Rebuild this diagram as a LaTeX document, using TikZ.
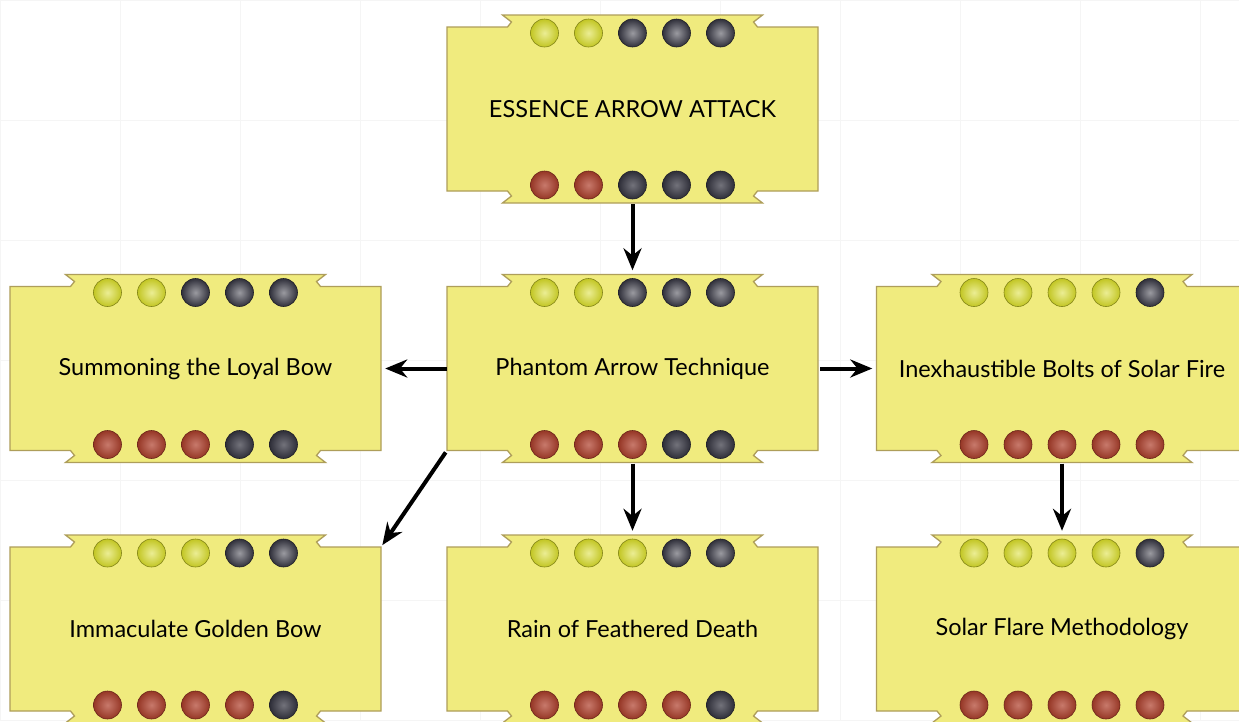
\documentclass[tikz,border=0pt]{standalone}
\usepackage{fontspec}
\setmainfont{Lato}
\usetikzlibrary{arrows.meta, positioning}
\definecolor{plaquefill}{HTML}{F0EB7E}
\definecolor{plaqueline}{HTML}{AE9E5A}
\definecolor{dotyellow}{HTML}{D8DC28}
\definecolor{dotred}{HTML}{B0402C}
\definecolor{dotdark}{HTML}{363642}
\tikzset{
	pics/plaque/.style 2 args={code={
			\draw[plaqueline, line width=1.3pt, fill=plaquefill, line join=miter]
			(-185.5,-82) -- (-125,-82) -- (-121,-87) -- (-130,-94) --
			(130,-94) -- (121,-87) -- (125,-82) -- (185.5,-82) --
			(185.5,82) -- (125,82) -- (121,87) -- (130,94) --
			(-130,94) -- (-121,87) -- (-125,82) -- (-185.5,82) --
			cycle;
			\foreach \i in {1,...,5}{
				\ifnum\i>#1\relax\def\dotc{dotdark}\else\def\dotc{dotyellow}\fi
				\shade[inner color=\dotc!50!white, outer color=\dotc!90!black, draw=\dotc!60!black, line width=0.6pt] ({(\i-3)*44},-76) circle (14pt);
				\ifnum\i>#2\relax\def\dotc{dotdark}\else\def\dotc{dotred}\fi
				\shade[inner color=\dotc!70!white, outer color=\dotc!85!black, draw=\dotc!60!black, line width=0.6pt] ({(\i-3)*44},76) circle (14pt);
			}
		}}
}
\tikzset{
	plaquetext/.style={minimum width=371pt, minimum height=164pt, inner sep=0pt,
			font=\fontsize{23.5pt}{28pt}\selectfont}
}
\tikzset{
	charmarrow/.style={line width=4pt, -{Stealth[length=22pt,width=18pt]}}
}
\begin{document}
\begin{tikzpicture}[x=1pt,y=-1pt]
\clip (0,0) rectangle (1239,721);
\fill[white] (0,0) rectangle (1239,721);
\draw[black!4, step=120pt] (0,0) grid (1239,721);

\coordinate (mEss) at (632.5,109);
\coordinate (mSum) at (195.5,368.5);
\coordinate (mPha) at (632.5,368.5);
\coordinate (mIne) at (1062,368.5);
\coordinate (mImm) at (195.5,629);
\coordinate (mRai) at (632.5,629);
\coordinate (mSol) at (1062,629);

\pic at (mEss) {plaque={2}{2}};
\pic at (mSum) {plaque={2}{3}};
\pic at (mPha) {plaque={2}{3}};
\pic at (mIne) {plaque={4}{5}};
\pic at (mImm) {plaque={3}{4}};
\pic at (mRai) {plaque={3}{4}};
\pic at (mSol) {plaque={4}{5}};

\node[plaquetext] (essence) at (mEss) {ESSENCE ARROW ATTACK};
\node[plaquetext] (summoning) at (mSum) {Summoning the Loyal Bow};
\node[plaquetext] (phantom) at (mPha) {Phantom Arrow Technique};
\node[plaquetext] (bolts) at (mIne) {Inexhaustible Bolts of Solar Fire};
\node[plaquetext] (golden) at (mImm) {Immaculate Golden Bow};
\node[plaquetext] (rain) at (mRai) {Rain of Feathered Death};
\node[plaquetext] (flare) at (mSol) {Solar Flare Methodology};

\draw[charmarrow, shorten <=13pt, shorten >=16pt] (essence.south) -- (phantom.north);
\draw[charmarrow, shorten >=4pt] (phantom.west) -- (summoning.east);
\draw[charmarrow, shorten <=2pt, shorten >=4pt] (phantom.east) -- (bolts.west);
\draw[charmarrow, shorten <=2pt, shorten >=2pt] (phantom.south west) -- (golden.north east);
\draw[charmarrow, shorten <=13pt, shorten >=16pt] (phantom.south) -- (rain.north);
\draw[charmarrow, shorten <=13pt, shorten >=16pt] (bolts.south) -- (flare.north);

\end{tikzpicture}
\end{document}
